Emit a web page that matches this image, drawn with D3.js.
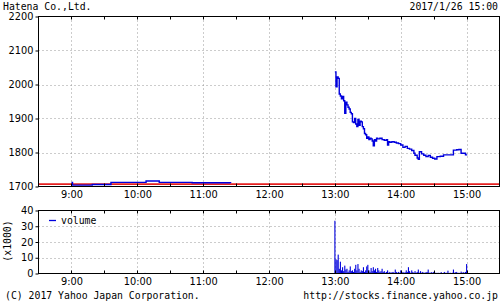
<!DOCTYPE html>
<html><head><meta charset="utf-8">
<script src="https://cdn.jsdelivr.net/npm/d3@7"></script>
<style>
html,body{margin:0;padding:0;background:#fff;}
svg{display:block;}
.mono{font-family:"DejaVu Sans Mono",monospace;font-size:9.8px;fill:#000;}
.tick text{font-family:"DejaVu Sans",sans-serif;font-size:9.8px;fill:#000;}
</style></head><body>
<script>
const title = "Hatena Co.,Ltd.";
const stamp = "2017/1/26 15:00";
const copyright = "(C) 2017 Yahoo Japan Corporation.";
const source = "http://stocks.finance.yahoo.co.jp";
const timeTicks = ["9:00","10:00","11:00","12:00","13:00","14:00","15:00"];
const halfTicks = ["9:30","10:30","11:30","12:30","13:30","14:30"];
const priceTicks = [1700,1800,1900,2000,2100,2200];
const volTicks = [0,10,20,30,40];
const prevClose = 1707;

const priceTimes = ["9:00","9:01","9:18","9:19","9:35","9:36","10:07","10:08","10:19","10:20","10:50","11:25",
"13:00","13:01","13:02","13:03","13:04","13:05","13:06","13:07","13:08","13:09","13:10","13:11","13:12","13:13","13:14","13:15","13:16","13:17","13:18","13:19","13:20","13:21","13:22","13:23","13:24","13:25","13:26","13:27","13:28","13:29","13:30","13:31","13:32","13:33","13:34","13:35","13:36","13:37","13:38","13:39","13:41","13:43","13:45","13:47","13:48","13:49","13:50","13:52","13:54","13:56","13:58","14:00","14:02","14:04","14:06","14:08","14:10","14:12","14:13","14:15","14:16","14:17","14:19","14:21","14:23","14:25","14:27","14:29","14:31","14:33","14:36","14:39","14:43","14:46","14:48","14:51","14:53","14:55","14:57","14:59","15:00"];
const priceValues = [1712,1704,1704,1706,1706,1712,1712,1716,1716,1712,1711,1710,
2037,1993,2022,2018,1972,1966,1958,1965,1952,1915,1948,1940,1933,1928,1918,1914,1890,1888,1900,1884,1876,1897,1880,1892,1890,1876,1870,1856,1852,1842,1846,1838,1842,1840,1834,1820,1838,1834,1842,1840,1842,1838,1836,1838,1822,1832,1830,1832,1830,1828,1826,1822,1815,1818,1812,1810,1806,1798,1792,1784,1780,1802,1796,1792,1788,1791,1786,1783,1781,1788,1789,1793,1793,1793,1807,1808,1809,1798,1798,1793,1791];

const volMorningTimes = ["9:00","9:01","9:30","10:07","10:08","11:00","11:25"];
const volMorningValues = [0.4,0.2,0.3,0.4,0.2,0.3,0.2];
const volStart = "13:00";
const volAfternoon = [33.5,9,8.5,12,3,7.5,2,4,1.5,5,2.5,3,1,2,4.5,1.5,2,1,3,5.5,2,6,3,1,2,1.5,4,1,2,4.5,5.5,2,1,3.5,1.5,4,2,3,1,3.5,2,1,1.5,3,1,1.5,0.5,1,2,0.5,1,0.5,0.8,1,0.5,2.5,1,0.5,1,0.5,2,0.5,1,0.5,0.8,2,1,4,1.5,0.5,2,1,0.5,1.5,0.5,1,2.5,0.5,1.5,0.5,1,0.5,0.5,0.8,1,2.5,0.5,0.5,0.8,0.5,1,0.3,0.5,0.3,0.5,0.3,0.5,0.8,0.3,0.5,1,0.3,0.5,1.8,0.3,0.5,0.3,0.5,2.5,0.5,0.8,1,0.3,0.5,0.3,1.2,0.5,0.8,0.5,1,6];

const toMin = s => { const [h,m] = s.split(":").map(Number); return h*60+m; };

const W = 500, H = 303;
const L = 38.5, R = 499.5;
const mTop = 16.5, mBot = 186.5, vTop = 210.5, vBot = 273.5;
const lineColor = "#0000dd";

const svg = d3.select("body").append("svg").attr("width", W).attr("height", H);

const x = d3.scaleLinear().domain([toMin("8:30"), toMin("15:30")]).range([L, R]);
const y = d3.scaleLinear().domain([1700, 2200]).range([mBot, mTop]);
const yv = d3.scaleLinear().domain([0, 40]).range([vBot, vTop]);

function panel(ys, top, bot, ticks) {
  const g = svg.append("g");
  g.selectAll(".vg").data(timeTicks).enter().append("line")
    .attr("x1", d => Math.round(x(toMin(d))) + 0.5).attr("x2", d => Math.round(x(toMin(d))) + 0.5)
    .attr("y1", top).attr("y2", bot)
    .attr("stroke", "#999").attr("stroke-dasharray", "1,3");
  g.selectAll(".hg").data(ticks.slice(1, -1)).enter().append("line")
    .attr("x1", L).attr("x2", R)
    .attr("y1", d => Math.round(ys(d)) + 0.5).attr("y2", d => Math.round(ys(d)) + 0.5)
    .attr("stroke", "#999").attr("stroke-dasharray", "1,3");
  return g;
}

function frame(ys, top, bot, ticks) {
  const g = svg.append("g");
  const ya = d3.axisLeft(ys).tickValues(ticks).tickSize(3).tickPadding(2).tickFormat(d3.format("d"));
  g.append("g").attr("transform", `translate(${L},0)`).call(ya)
    .call(s => s.select(".domain").remove());
  const allTicks = timeTicks.concat(halfTicks).map(toMin);
  const xa = d3.axisBottom(x).tickValues(timeTicks.map(toMin)).tickSize(0).tickPadding(5)
    .tickFormat((d, i) => timeTicks[i]);
  g.append("g").attr("transform", `translate(0,${bot})`).call(xa)
    .call(s => s.select(".domain").remove());
  g.selectAll(".tt").data(allTicks).enter().append("line")
    .attr("x1", d => Math.round(x(d)) + 0.5).attr("x2", d => Math.round(x(d)) + 0.5)
    .attr("y1", top).attr("y2", top + 3).attr("stroke", "#000");
  g.selectAll(".tb").data(allTicks).enter().append("line")
    .attr("x1", d => Math.round(x(d)) + 0.5).attr("x2", d => Math.round(x(d)) + 0.5)
    .attr("y1", bot).attr("y2", bot - 3).attr("stroke", "#000");
  g.append("rect").attr("x", L).attr("y", top).attr("width", R - L).attr("height", bot - top)
    .attr("fill", "none").attr("stroke", "#000");
  return g;
}

panel(y, mTop, mBot, priceTicks);
svg.append("line").attr("x1", L).attr("x2", R)
  .attr("y1", y(prevClose)).attr("y2", y(prevClose))
  .attr("stroke", "#e52020").attr("stroke-width", 1.6);

const pts = priceTimes.map((t, i) => [toMin(t), priceValues[i]]);
const morning = pts.filter(p => p[0] < toMin("12:00"));
const afternoon = pts.filter(p => p[0] >= toMin("12:00"));
const line = d3.line().x(d => x(d[0])).y(d => y(d[1])).curve(d3.curveStepAfter);
svg.append("path").attr("d", line(morning)).attr("fill", "none").attr("stroke", lineColor).attr("stroke-width", 1.4);
svg.append("path").attr("d", line(afternoon)).attr("fill", "none").attr("stroke", lineColor).attr("stroke-width", 1.4);
frame(y, mTop, mBot, priceTicks);

panel(yv, vTop, vBot, volTicks);
const vols = volMorningTimes.map((t, i) => [toMin(t), volMorningValues[i]])
  .concat(volAfternoon.map((v, i) => [toMin(volStart) + i, v]));
const bw = x(1) - x(0);
svg.append("g").selectAll("rect").data(vols).enter().append("rect")
  .attr("x", d => x(d[0]) - 0.5)
  .attr("width", Math.max(1, bw))
  .attr("y", d => yv(d[1]))
  .attr("height", d => Math.max(0.6, vBot - yv(d[1])))
  .attr("fill", lineColor);
frame(yv, vTop, vBot, volTicks);

svg.append("line").attr("x1", 49).attr("x2", 56).attr("y1", 220.5).attr("y2", 220.5).attr("stroke", lineColor).attr("stroke-width", 1.3);
svg.append("text").attr("class", "mono").attr("x", 61).attr("y", 224).text("volume");
svg.append("text").attr("class", "mono").attr("transform", "translate(11,241) rotate(-90)")
  .attr("text-anchor", "middle").text("(x1000)");

svg.append("text").attr("class", "mono").attr("x", 3).attr("y", 10).text(title);
svg.append("text").attr("class", "mono").attr("x", 498).attr("y", 10).attr("text-anchor", "end").text(stamp);
svg.append("text").attr("class", "mono").attr("x", 5).attr("y", 299).text(copyright);
svg.append("text").attr("class", "mono").attr("x", 498).attr("y", 299).attr("text-anchor", "end").text(source);
</script>
</body></html>
